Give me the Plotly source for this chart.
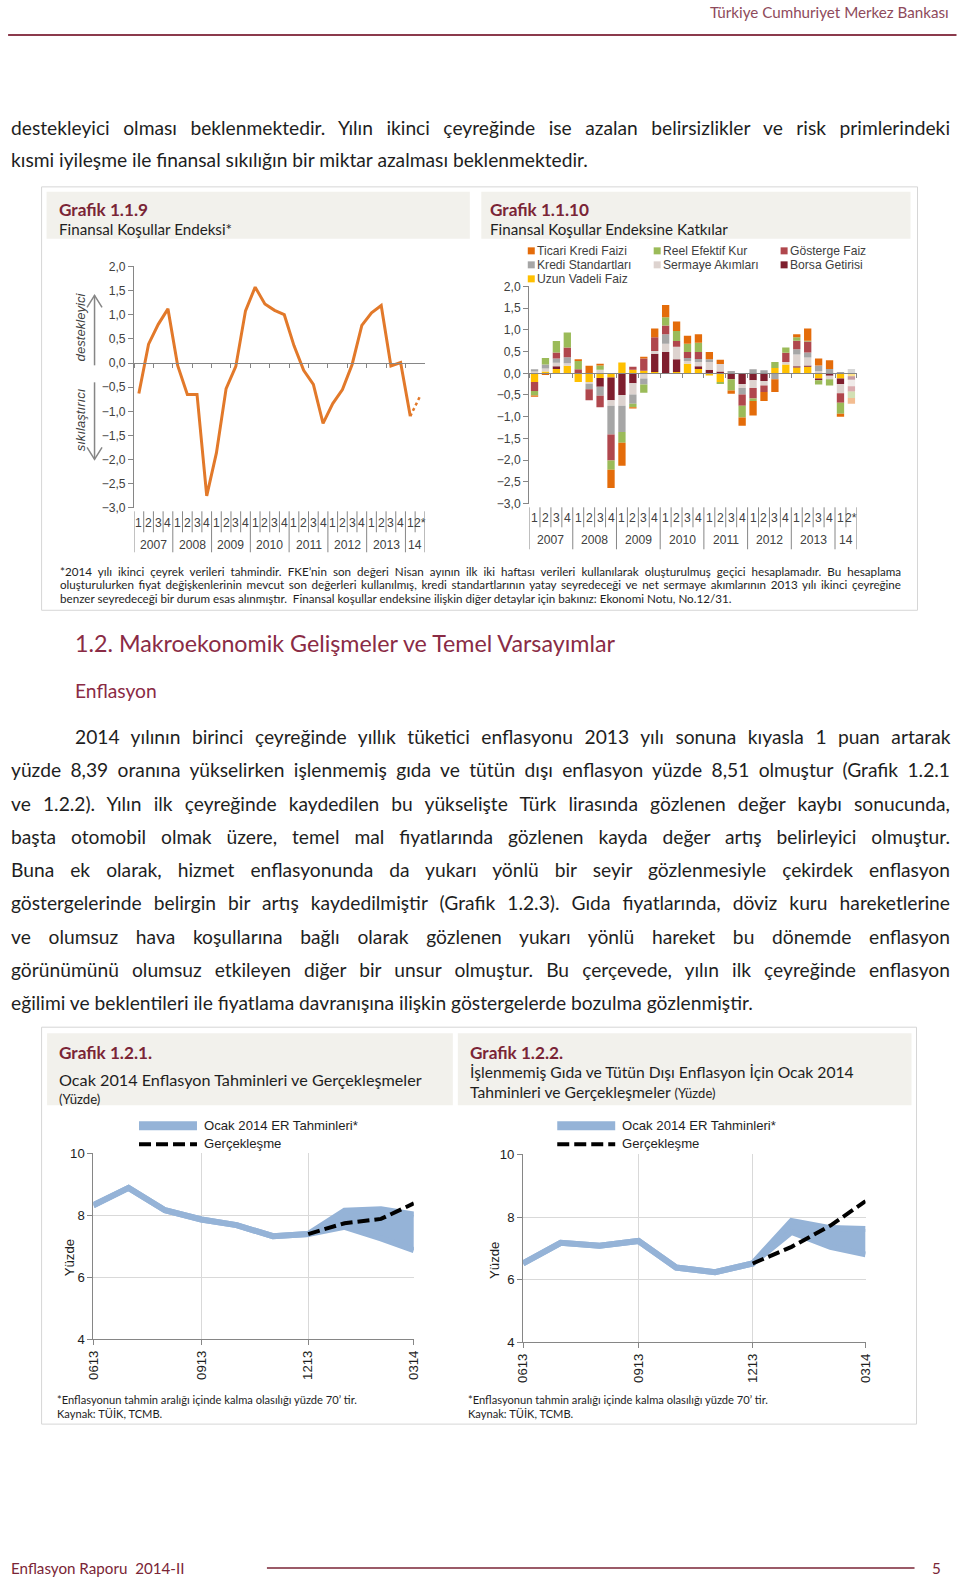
import json
import plotly.graph_objects as go

# Figure is 960x1579; the photographed page maps figure pixels to page pixels as
# page = 7.9 + 0.985*x, page = 6.6 + 0.9907*y, so page coordinates are inverted here.
W, H = 960, 1579
SX, OX, SY, OY = 0.985, 7.9, 0.9907, 6.6
FS = 1.012
def PX(x): return ((x - OX) / SX) / W
def PY(y): return 1 - ((y - OY) / SY) / H

# ---------------- DATA ----------------
year_labels = ["2007", "2008", "2009", "2010", "2011", "2012", "2013", "14"]
quarters_per_year = [4, 4, 4, 4, 4, 4, 4, 2]
quarter_labels = ["1", "2", "3", "4"] * 7 + ["1", "2*"]

fci_index = [-0.63, 0.39, 0.80, 1.12, -0.05, -0.65, -0.65, -2.75, -1.86, -0.53,
             -0.07, 1.08, 1.57, 1.22, 1.09, 1.00, 0.36, -0.15, -0.44, -1.25,
             -0.84, -0.55, -0.03, 0.78, 1.04, 1.19, -0.06, 0.01, -1.10, -0.69]

uzun_vadeli_faiz = [-0.20, 0.04, 0.10, 0.17, -0.20, -0.20, -0.11, -0.10, 0.25, 0.08,
                    0.06, 0.03, 0.00, 0.03, 0.22, 0.10, -0.05, -0.20, 0.00, 0.00,
                    0.00, 0.00, 0.12, 0.20, 0.13, 0.15, -0.12, 0.00, -0.12, -0.07]
borsa_getirisi = [0.00, 0.00, 0.06, 0.00, 0.00, 0.00, -0.20, -0.52, -0.50, -0.23,
                  0.00, 0.42, 0.49, 0.29, 0.00, 0.06, 0.08, 0.04, -0.14, -0.25,
                  -0.16, -0.18, 0.00, 0.00, 0.03, 0.03, -0.04, -0.06, -0.13, -0.08]
sermaye_akimlari = [0.04, 0.07, 0.08, 0.06, 0.00, -0.04, 0.08, -0.13, -0.25, -0.26,
                    -0.12, 0.06, 0.19, 0.29, 0.06, 0.10, 0.18, 0.17, 0.00, -0.09,
                    -0.18, -0.10, 0.00, 0.06, 0.27, 0.18, 0.05, -0.08, -0.21, -0.15]
kredi_standartlari = [0.05, 0.09, 0.10, 0.14, 0.00, -0.13, -0.21, -0.66, -0.60, -0.21,
                      -0.14, 0.00, 0.22, 0.00, 0.07, 0.07, 0.06, 0.00, 0.05, -0.15,
                      0.09, 0.07, -0.14, 0.00, 0.12, 0.12, 0.13, 0.10, 0.03, 0.10]
gosterge_faiz = [-0.21, 0.00, 0.14, 0.22, 0.09, -0.25, -0.26, -0.60, 0.00, 0.07,
                 0.28, 0.32, 0.20, 0.13, 0.14, 0.16, 0.00, 0.00, 0.00, -0.26,
                 -0.24, -0.15, 0.00, 0.21, 0.20, 0.25, 0.00, 0.00, -0.22, -0.12]
reel_efektif_kur = [-0.10, 0.15, 0.26, 0.35, 0.19, 0.00, 0.10, -0.21, -0.25, -0.08,
                    -0.19, 0.00, 0.19, 0.23, 0.19, 0.21, 0.00, -0.05, -0.26, -0.27,
                    -0.06, 0.00, 0.14, 0.12, 0.08, 0.02, -0.10, -0.14, -0.25, -0.15]
ticari_kredi_faizi = [-0.03, -0.04, 0.00, 0.00, 0.04, 0.17, 0.04, -0.42, -0.53, -0.03,
                      0.04, 0.20, 0.28, 0.22, 0.18, 0.20, 0.17, 0.10, -0.07, -0.19,
                      -0.33, -0.21, -0.29, -0.02, 0.07, 0.28, 0.16, 0.20, -0.07, -0.13]

months = ["2013-06-01", "2013-07-01", "2013-08-01", "2013-09-01", "2013-10-01",
          "2013-11-01", "2013-12-01", "2014-01-01", "2014-02-01", "2014-03-01"]
month_ticks = ["2013-06-01", "2013-09-01", "2013-12-01", "2014-03-01"]
cpi_band_low = [8.33, 8.89, 8.17, 7.87, 7.69, 7.33, 7.40, 7.63, 7.26, 6.88]
cpi_band_high = [8.33, 8.89, 8.17, 7.87, 7.69, 7.33, 7.40, 8.15, 8.20, 8.03]
cpi_actual = [None, None, None, None, None, None, 7.40, 7.75, 7.89, 8.39]
core_band_low = [6.52, 7.18, 7.09, 7.24, 6.39, 6.24, 6.52, 7.53, 7.05, 6.81]
core_band_high = [6.52, 7.18, 7.09, 7.24, 6.39, 6.24, 6.52, 7.88, 7.65, 7.62]
core_actual = [None, None, None, None, None, None, 6.52, 7.05, 7.73, 8.51]

categories = []
qi = 0
for yl, n in zip(year_labels, quarters_per_year):
    for _ in range(n):
        categories.append(yl + "-" + quarter_labels[qi])
        qi += 1

# ---------------- STYLE ----------------
GRAY = "#868686"
ORANGE = "#E2792A"
MAROON = "#7A2536"
BAND = "#95B3D7"
TXT = "#1E1E1E"
ARIAL = "Liberation Sans, Arial"
GOTH = "Lato"
TF = dict(family=ARIAL, size=12 * FS, color="#404040")

A_x, A_y = [PX(134), PX(425)], [PY(507.7), PY(266)]
B_x, B_y = [PX(529.3), PX(857.3)], [PY(503.3), PY(286)]
C_x, C_y = [PX(93.3), PX(414)], [PY(1339.3), PY(1153.3)]
D_x, D_y = [PX(523.3), PX(866)], [PY(1342.3), PY(1154.3)]

def zero_pos(dom, lo=-3.0, hi=2.0):
    return dom[0] + (0 - lo) / (hi - lo) * (dom[1] - dom[0])

fig = go.Figure()

# Chart 1.1.9
fig.add_trace(go.Scatter(x=categories[:-1], y=fci_index[:-1], mode="lines",
                         line=dict(color=ORANGE, width=3), xaxis="x", yaxis="y",
                         hoverinfo="skip"))
fig.add_trace(go.Scatter(x=categories[-2:], y=fci_index[-2:], mode="lines",
                         line=dict(color=ORANGE, width=2.5, dash="dot"), xaxis="x", yaxis="y",
                         hoverinfo="skip"))

# Chart 1.1.10
series = [
    ("Uzun Vadeli Faiz", uzun_vadeli_faiz, "#FFC000"),
    ("Borsa Getirisi", borsa_getirisi, "#7F1F2E"),
    ("Sermaye Akımları", sermaye_akimlari, "#DDD3CF"),
    ("Kredi Standartları", kredi_standartlari, "#A6A6A6"),
    ("Gösterge Faiz", gosterge_faiz, "#B0474D"),
    ("Reel Efektif Kur", reel_efektif_kur, "#9BBB59"),
    ("Ticari Kredi Faizi", ticari_kredi_faizi, "#E46C0A"),
]
colors = {n: c for n, _, c in series}
for name, vals, col in series:
    fig.add_trace(go.Bar(x=categories, y=vals, name=name, xaxis="x2", yaxis="y3",
                         marker=dict(color=col, opacity=[1] * (len(vals) - 1) + [0.45],
                                     line=dict(width=0)),
                         hoverinfo="skip"))

# Charts 1.2.1 / 1.2.2
for xa, ya, lo, hi, act in [("x3", "y5", cpi_band_low, cpi_band_high, cpi_actual),
                            ("x4", "y7", core_band_low, core_band_high, core_actual)]:
    fig.add_trace(go.Scatter(x=months, y=lo, mode="lines", line=dict(color=BAND, width=6),
                             xaxis=xa, yaxis=ya, hoverinfo="skip"))
    fig.add_trace(go.Scatter(x=months, y=hi, mode="lines", line=dict(color=BAND, width=6),
                             fill="tonexty", fillcolor=BAND, xaxis=xa, yaxis=ya, hoverinfo="skip"))
    fig.add_trace(go.Scatter(x=months, y=act, mode="lines",
                             line=dict(color="black", width=4, dash="12px,5px"),
                             xaxis=xa, yaxis=ya, hoverinfo="skip"))

# ---------------- ANNOTATIONS / SHAPES ----------------
ann, shapes, justify = [], [], {}

def text(x, y, s, size, color=TXT, family=GOTH, anchor="left", angle=0,
         xref="paper", just=None):
    if just is not None:
        justify[str(len(ann))] = just
    ann.append(dict(x=PX(x) if xref == "paper" else x, y=PY(y), xref=xref, yref="paper",
                    text=s, showarrow=False, xanchor=anchor, yanchor="middle", align="left",
                    textangle=angle, font=dict(family=family, size=size * FS, color=color),
                    borderpad=0))

def line(x0, y0, x1, y1, color, width=1, dash=None, xref="paper"):
    d = dict(type="line", xref=xref, yref="paper",
             x0=PX(x0) if xref == "paper" else x0, x1=PX(x1) if xref == "paper" else x1,
             y0=PY(y0), y1=PY(y1), line=dict(color=color, width=width))
    if dash:
        d["line"]["dash"] = dash
    shapes.append(d)

def rect(x0, y0, x1, y1, fill=None, border=None, layer="below"):
    shapes.append(dict(type="rect", xref="paper", yref="paper", x0=PX(x0), x1=PX(x1),
                       y0=PY(y1), y1=PY(y0), layer=layer,
                       fillcolor=fill if fill else "rgba(0,0,0,0)",
                       line=dict(color=border if border else "rgba(0,0,0,0)", width=1)))

def path(pts, color, width=1.5):
    p = "M " + " L ".join(f"{PX(x)},{PY(y)}" for x, y in pts)
    shapes.append(dict(type="path", xref="paper", yref="paper", path=p,
                       line=dict(color=color, width=width)))

# page header / footer
text(950, 12, "Türkiye Cumhuriyet Merkez Bankası", 15, color="#8E4A5B", anchor="right")
line(8, 34.5, 957, 34.5, "#8B3A4C", 2)
text(10, 1568, "Enflasyon Raporu  2014-II", 15, color=MAROON)
line(267, 1568, 915, 1568, MAROON, 1.5)
text(937, 1568, "5", 15, color=MAROON, anchor="center")

# top paragraph
text(10, 127, "destekleyici olması beklenmektedir. Yılın ikinci çeyreğinde ise azalan belirsizlikler ve risk primlerindeki", 19, just=939)
text(10, 159, "kısmi iyileşme ile finansal sıkılığın bir miktar azalması beklenmektedir.", 19)

# panel 1
rect(41.5, 186.5, 918, 610, border="#D6D6D6")
rect(46.5, 191.5, 470, 238.5, fill="#F2F1EC")
rect(481.5, 191.5, 911, 238.5, fill="#F2F1EC")
text(58, 209, "<b>Grafik 1.1.9</b>", 17, color=MAROON)
text(58, 229, "Finansal Koşullar Endeksi*", 15)
text(489, 209, "<b>Grafik 1.1.10</b>", 17, color=MAROON)
text(489, 229, "Finansal Koşullar Endeksine Katkılar", 15)

fn = ["*2014 yılı ikinci çeyrek verileri tahmindir. FKE’nin son değeri Nisan ayının ilk iki haftası verileri kullanılarak oluşturulmuş geçici hesaplamadır. Bu hesaplama",
      "oluşturulurken fiyat değişkenlerinin mevcut son değerleri kullanılmış, kredi standartlarının yatay seyredeceği ve net sermaye akımlarının 2013 yılı ikinci çeyreğine",
      "benzer seyredeceği bir durum esas alınmıştır.  Finansal koşullar endeksine ilişkin diğer detaylar için bakınız: Ekonomi Notu, No.12/31."]
for i, s in enumerate(fn):
    text(58.5, 571 + 13.5 * i, s, 11.5, just=841 if i < 2 else None)

# chart A extras: arrows and side labels
path([(94.5, 365), (94.5, 295)], GRAY)
path([(87, 307), (94.5, 295), (102, 307)], GRAY)
path([(94.5, 382), (94.5, 459)], GRAY)
path([(87, 447), (94.5, 459), (102, 447)], GRAY)
text(80, 327, "<i>destekleyici</i>", 13, family=ARIAL, color="#404040", anchor="center", angle=-90)
text(80, 420, "<i>sıkılaştırıcı</i>", 13, family=ARIAL, color="#404040", anchor="center", angle=-90)

# category labels + separators for charts A and B
def cat_axis(xref, y_q, y_y, sep_top, sep_q, sep_y):
    for i, ql in enumerate(quarter_labels):
        text(i, y_q, ql, 12, family=ARIAL, color="#404040", anchor="center", xref=xref)
    start = 0
    bounds = {0}
    for yl, n in zip(year_labels, quarters_per_year):
        text(start + (n - 1) / 2, y_y, yl, 12, family=ARIAL, color="#404040",
             anchor="center", xref=xref)
        start += n
        bounds.add(start)
    for k in range(len(categories) + 1):
        line(k - 0.5, sep_top, k - 0.5, sep_y if k in bounds else sep_q, GRAY, 1, xref=xref)

cat_axis("x", 523, 545, 511, 532, 552)
cat_axis("x2", 518, 540, 507, 527, 549)

# legend chart B
leg = [("Ticari Kredi Faizi", 531.5, 250.5), ("Reel Efektif Kur", 657.5, 250.5),
       ("Gösterge Faiz", 784.5, 250.5), ("Kredi Standartları", 531.5, 264.5),
       ("Sermaye Akımları", 657.5, 264.5), ("Borsa Getirisi", 784.5, 264.5),
       ("Uzun Vadeli Faiz", 531.5, 278.5)]
for name, cx, cy in leg:
    rect(cx - 3.5, cy - 3.5, cx + 3.5, cy + 3.5, fill=colors[name], layer="above")
    text(cx + 5, cy, name, 12, family=ARIAL, color="#404040")

# section heading
text(74, 643, "1.2. Makroekonomik Gelişmeler ve Temel Varsayımlar", 23, color="#8A2B45")
text(74, 690, "Enflasyon", 19, color="#8A2B45")

body = ["2014 yılının birinci çeyreğinde yıllık tüketici enflasyonu 2013 yılı sonuna kıyasla 1 puan artarak",
        "yüzde 8,39 oranına yükselirken işlenmemiş gıda ve tütün dışı enflasyon yüzde 8,51 olmuştur (Grafik 1.2.1",
        "ve 1.2.2). Yılın ilk çeyreğinde kaydedilen bu yükselişte Türk lirasında gözlenen değer kaybı sonucunda,",
        "başta otomobil olmak üzere, temel mal fiyatlarında gözlenen kayda değer artış belirleyici olmuştur.",
        "Buna ek olarak, hizmet enflasyonunda da yukarı yönlü bir seyir gözlenmesiyle çekirdek enflasyon",
        "göstergelerinde belirgin bir artış kaydedilmiştir (Grafik 1.2.3). Gıda fiyatlarında, döviz kuru hareketlerine",
        "ve olumsuz hava koşullarına bağlı olarak gözlenen yukarı yönlü hareket bu dönemde enflasyon",
        "görünümünü olumsuz etkileyen diğer bir unsur olmuştur. Bu çerçevede, yılın ilk çeyreğinde enflasyon",
        "eğilimi ve beklentileri ile fiyatlama davranışına ilişkin göstergelerde bozulma gözlenmiştir."]
for i, s in enumerate(body):
    x0 = 73.5 if i == 0 else 10
    text(x0, 736.3 + 33.25 * i, s, 19, just=(949 - x0) if i < len(body) - 1 else None)

# panel 2
rect(41.5, 1027, 917, 1424, border="#D6D6D6")
rect(47, 1033, 453, 1105, fill="#F2F1EC")
rect(458, 1033, 912, 1105, fill="#F2F1EC")
text(58, 1052, "<b>Grafik 1.2.1.</b>", 17, color=MAROON)
text(58, 1079, "Ocak 2014 Enflasyon Tahminleri ve Gerçekleşmeler", 16)
text(58, 1099, "(Yüzde)", 13)
text(469, 1052, "<b>Grafik 1.2.2.</b>", 17, color=MAROON)
text(469, 1072, "İşlenmemiş Gıda ve Tütün Dışı Enflasyon İçin Ocak 2014", 15.5)
text(469, 1092, "Tahminleri ve Gerçekleşmeler <span style='font-size:13px'>(Yüzde)</span>", 15.5)

for x0, ytxt in [(139, 1125.5), (557.5, 1125.5)]:
    rect(x0, 1121, x0 + 58, 1130, fill=BAND, layer="above")
    text(x0 + 64, ytxt, "Ocak 2014 ER Tahminleri*", 13, family=ARIAL, color="#1E1E1E")
    line(x0, ytxt + 18.5, x0 + 58, ytxt + 18.5, "black", 4, dash="12px,5px")
    text(x0 + 64, ytxt + 18, "Gerçekleşme", 13, family=ARIAL, color="#1E1E1E")

text(69, 1258, "Yüzde", 13, family=ARIAL, color="#1E1E1E", anchor="center", angle=-90)
text(494, 1260, "Yüzde", 13, family=ARIAL, color="#1E1E1E", anchor="center", angle=-90)
for x0 in (56, 467):
    text(x0, 1399, "*Enflasyonun tahmin aralığı içinde kalma olasılığı yüzde 70’ tir.", 11)
    text(x0, 1413, "Kaynak: TÜİK, TCMB.", 11)

# ---------------- AXES ----------------
def cat_x(dom, ydom):
    return dict(domain=dom, type="category", categoryorder="array", categoryarray=categories,
                range=[-0.5, len(categories) - 0.5], anchor="free", position=zero_pos(ydom),
                showline=True, linecolor=GRAY, linewidth=1, ticks="outside",
                tickson="boundaries", ticklen=4, tickcolor=GRAY, showticklabels=False,
                showgrid=False, zeroline=False, fixedrange=True)

def val_y(dom, anchor, fmt, side="left", overlay=None):
    d = dict(anchor=anchor, range=[-3, 2], tick0=0, dtick=0.5, tickformat=fmt, side=side,
             showline=True, linecolor=GRAY, linewidth=1, ticks="outside", ticklen=5,
             tickcolor=GRAY, showgrid=False, zeroline=False, tickfont=TF, fixedrange=True)
    if overlay:
        d["overlaying"] = overlay
    else:
        d["domain"] = dom
    return d

def date_x(dom, anchor):
    return dict(domain=dom, anchor=anchor, type="date", range=[months[0], months[-1]],
                tickvals=month_ticks, tickformat="%m%y", tickangle=-90, showgrid=True,
                gridcolor="#D9D9D9", showline=True, linecolor=GRAY, ticks="outside",
                ticklen=5, tickcolor=GRAY, zeroline=False,
                tickfont=dict(family=ARIAL, size=13 * FS, color="#1E1E1E"), fixedrange=True)

def pct_y(dom, anchor, side="left", overlay=None):
    d = dict(anchor=anchor, range=[4, 10], tickvals=[4, 6, 8, 10], side=side, showline=True,
             linecolor=GRAY, ticks="outside", ticklen=5, tickcolor=GRAY, showgrid=False,
             zeroline=False, tickfont=dict(family=ARIAL, size=13 * FS, color="#1E1E1E"),
             fixedrange=True)
    if overlay:
        d["overlaying"] = overlay
    else:
        d["domain"] = dom
        d["minor"] = dict(tickvals=[6, 8], showgrid=True, gridcolor="#D9D9D9", ticks="")
    return d

fig.update_layout(
    width=W, height=H, autosize=False, margin=dict(l=0, r=0, t=0, b=0, pad=0),
    paper_bgcolor="white", plot_bgcolor="rgba(0,0,0,0)", separators=", ",
    barmode="relative", bargap=0.33, showlegend=False,
    font=dict(family=ARIAL, size=12, color="#404040"),
    xaxis=cat_x(A_x, A_y), yaxis=val_y(A_y, "x", ".1f"),
    yaxis2=val_y(A_y, "x", ".1f", side="right", overlay="y"),
    xaxis2=cat_x(B_x, B_y), yaxis3=val_y(B_y, "x2", ".1f"),
    yaxis4=val_y(B_y, "x2", ".2f", side="right", overlay="y3"),
    xaxis3=date_x(C_x, "y5"), yaxis5=pct_y(C_y, "x3"),
    yaxis6=pct_y(C_y, "x3", side="right", overlay="y5"),
    xaxis4=date_x(D_x, "y7"), yaxis7=pct_y(D_y, "x4"),
    yaxis8=pct_y(D_y, "x4", side="right", overlay="y7"),
    shapes=shapes, annotations=ann,
)

post = """
document.body.style.margin='0';
document.body.style.overflow='hidden';
var gd=document.getElementById('{plot_id}');
var J=""" + json.dumps(justify) + """;
var gs=gd.querySelectorAll('g.annotation');
for(var k=0;k<gs.length;k++){
  var g=gs[k]; var idx=g.getAttribute('data-index');
  if(!(idx in J)) continue;
  var t=g.querySelector('text.annotation-text');
  if(!t) continue;
  var s=t.textContent; var n=(s.match(/ /g)||[]).length;
  var w=t.getComputedTextLength();
  if(n>0){ t.style.wordSpacing=((J[idx]-w)/n)+'px'; }
}
"""

fig.write_html("out.html", post_script=post, config={"displayModeBar": False, "staticPlot": True})
